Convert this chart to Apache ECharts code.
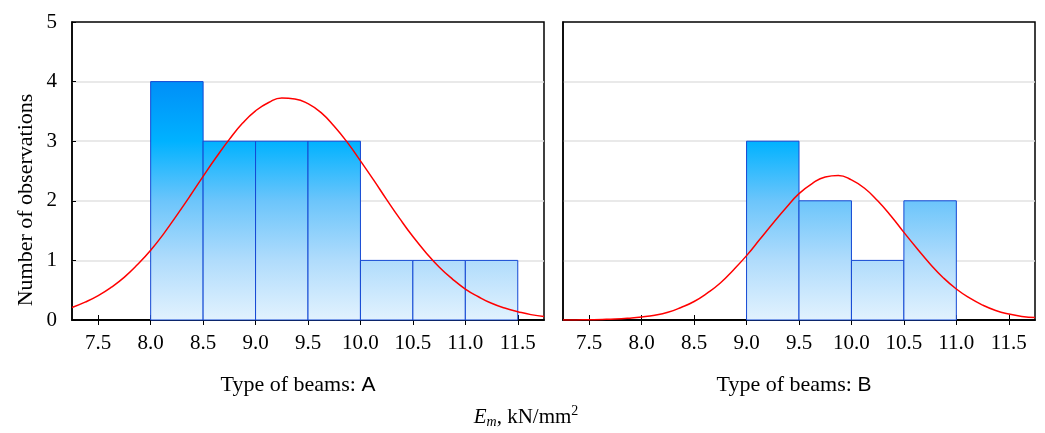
<!DOCTYPE html>
<html lang="en">
<head>
    <meta charset="UTF-8">
    <title>Histogram</title>
    <script src="https://cdn.jsdelivr.net/npm/echarts@6/dist/echarts.min.js"></script>
    <style>
        body { margin: 0; background: #fff; }
        #dom { width: 1045px; height: 433px; }
    </style>
</head>
<body>
<div id="dom"></div>
<script>
// bin edges (left, right) and counts
var binsA = [[8.0, 8.5], [8.5, 9.0], [9.0, 9.5], [9.5, 10.0], [10.0, 10.5], [10.5, 11.0], [11.0, 11.5]];
var countsA = [4, 3, 3, 3, 1, 1, 1];
var binsB = [[9.0, 9.5], [9.5, 10.0], [10.0, 10.5], [10.5, 11.0]];
var countsB = [3, 2, 1, 2];

// fitted normal curves
var curveX = [7.25, 7.375, 7.5, 7.625, 7.75, 7.875, 8.0, 8.125, 8.25, 8.375, 8.5, 8.625, 8.75, 8.875, 9.0, 9.125,
    9.25, 9.375, 9.5, 9.625, 9.75, 9.875, 10.0, 10.125, 10.25, 10.375, 10.5, 10.625, 10.75, 10.875, 11.0, 11.125,
    11.25, 11.375, 11.5, 11.625, 11.75];
var curveA = [0.21, 0.30, 0.41, 0.55, 0.72, 0.93, 1.17, 1.45, 1.76, 2.08, 2.41, 2.73, 3.03, 3.30, 3.51, 3.65,
    3.725, 3.71, 3.63, 3.48, 3.25, 2.98, 2.67, 2.35, 2.02, 1.70, 1.40, 1.13, 0.89, 0.69, 0.52, 0.39,
    0.28, 0.20, 0.14, 0.09, 0.06];
var curveB = [0.001, 0.002, 0.005, 0.009, 0.016, 0.03, 0.05, 0.08, 0.13, 0.21, 0.31, 0.45, 0.62, 0.84, 1.08, 1.35,
    1.62, 1.88, 2.12, 2.29, 2.40, 2.425, 2.35, 2.21, 2.00, 1.75, 1.47, 1.20, 0.94, 0.71, 0.52, 0.37,
    0.25, 0.16, 0.10, 0.06, 0.04];

var xTicks = [7.5, 8.0, 8.5, 9.0, 9.5, 10.0, 10.5, 11.0, 11.5];
var panelNames = ['A', 'B'];
var panelCenters = [298, 794];

var serif = '"Liberation Serif", "Times New Roman", serif';
var sans = '"Liberation Sans", Arial, sans-serif';

function histData(bins, counts) {
    return bins.map(function (b, i) { return [b[0], b[1], counts[i]]; });
}
function curveData(ys) {
    return curveX.map(function (x, i) { return [x, ys[i]]; });
}

function renderBar(params, api) {
    var p0 = api.coord([api.value(0), 0]);
    var p1 = api.coord([api.value(1), api.value(2)]);
    var top4 = api.coord([api.value(0), 4])[1];
    // one gradient for the whole plot, not per bar
    var fill = new echarts.graphic.LinearGradient(0, top4, 0, p0[1], [
        { offset: 0, color: '#008ff8' },
        { offset: 0.25, color: '#00b2ff' },
        { offset: 0.5, color: '#6cc5fb' },
        { offset: 0.75, color: '#b0dcfc' },
        { offset: 1, color: '#e2f2fe' }
    ], true);
    return {
        type: 'rect',
        shape: { x: p0[0], y: p1[1], width: p1[0] - p0[0], height: p0[1] - p1[1] },
        style: { fill: fill, stroke: '#1448d4', lineWidth: 1 }
    };
}

var grids = [
    { left: 72, top: 22, width: 472, height: 298, show: true, borderColor: '#000', borderWidth: 1.5 },
    { left: 563, top: 22, width: 472, height: 298, show: true, borderColor: '#000', borderWidth: 1.5 }
];

var xAxes = [], yAxes = [], series = [], graphics = [];
[0, 1].forEach(function (g) {
    xAxes.push({
        type: 'value', gridIndex: g, min: 7.25, max: 11.75,
        axisLine: { show: true, onZero: false, lineStyle: { color: '#000', width: 1.5 } },
        axisTick: { show: true, inside: true, length: 5, customValues: xTicks, lineStyle: { color: '#000' } },
        axisLabel: {
            customValues: xTicks, color: '#000', fontFamily: serif, fontSize: 21, margin: 13,
            formatter: function (v) { return v.toFixed(1); }
        },
        splitLine: { show: false }
    });
    xAxes.push({
        type: 'value', gridIndex: g, position: 'top', min: 7.25, max: 11.75,
        axisLine: { show: true, lineStyle: { color: '#000', width: 1.5 } },
        axisTick: { show: true, inside: true, length: 5, customValues: xTicks, lineStyle: { color: '#000' } },
        axisLabel: { show: false },
        splitLine: { show: false }
    });
    yAxes.push({
        type: 'value', gridIndex: g, min: 0, max: 5, interval: 1,
        axisLine: { show: true, lineStyle: { color: '#000', width: 1.5 } },
        axisTick: { show: g === 0, inside: true, length: 4, lineStyle: { color: '#000' } },
        axisLabel: { show: g === 0, color: '#000', fontFamily: serif, fontSize: 21, margin: 15 },
        splitLine: { show: true, showMinLine: false, showMaxLine: false, lineStyle: { color: '#e2e2e2', width: 1.5 } }
    });
});

series.push({
    type: 'custom', xAxisIndex: 0, yAxisIndex: 0, renderItem: renderBar,
    data: histData(binsA, countsA), encode: { x: [0, 1], y: 2 }
});
series.push({
    type: 'custom', xAxisIndex: 2, yAxisIndex: 1, renderItem: renderBar,
    data: histData(binsB, countsB), encode: { x: [0, 1], y: 2 }
});
series.push({
    type: 'line', xAxisIndex: 0, yAxisIndex: 0, data: curveData(curveA), smooth: 0.5,
    showSymbol: false, lineStyle: { color: '#ff0000', width: 1.5 }, z: 5
});
series.push({
    type: 'line', xAxisIndex: 2, yAxisIndex: 1, data: curveData(curveB), smooth: 0.5,
    showSymbol: false, lineStyle: { color: '#ff0000', width: 1.5 }, z: 5
});

[0, 1].forEach(function (g) {
    graphics.push({
        type: 'text', x: panelCenters[g], y: 385,
        style: {
            text: '{s|Type of beams: }{a|' + panelNames[g] + '}',
            align: 'center', verticalAlign: 'middle',
            rich: {
                s: { fontFamily: serif, fontSize: 22, fill: '#000' },
                a: { fontFamily: sans, fontSize: 21, fill: '#000' }
            }
        }
    });
});
graphics.push({
    type: 'text', x: 26, y: 200, rotation: Math.PI / 2,
    style: {
        text: 'Number of observations', align: 'center', verticalAlign: 'middle',
        fontFamily: serif, fontSize: 22, fill: '#000'
    }
});
graphics.push({
    type: 'text', x: 526, y: 417,
    style: {
        text: '{e|E}{m|m}{t|, kN/mm}{p|2}',
        align: 'center', verticalAlign: 'middle',
        rich: {
            e: { fontFamily: serif, fontStyle: 'italic', fontSize: 21, fill: '#000' },
            m: { fontFamily: serif, fontStyle: 'italic', fontSize: 14, fill: '#000', padding: [10, 0, 0, 0] },
            t: { fontFamily: serif, fontSize: 21, fill: '#000' },
            p: { fontFamily: serif, fontSize: 14, fill: '#000', padding: [0, 0, 11, 0] }
        }
    }
});

var myCharts = echarts.init(document.getElementById('dom'));
myCharts.setOption({
    animation: false,
    grid: grids,
    xAxis: xAxes,
    yAxis: yAxes,
    series: series,
    graphic: graphics
});
</script>
</body>
</html>
